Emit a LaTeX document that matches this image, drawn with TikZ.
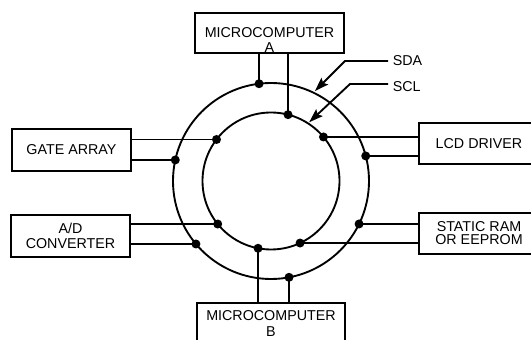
\documentclass[tikz,border=0pt]{standalone}
\usepackage{fontspec}
\setmainfont{Liberation Sans}
\usetikzlibrary{arrows.meta}

\begin{document}
\begin{tikzpicture}[x=0.03cm, y=0.03cm, line width=1.6pt, every node/.style={font=\fontsize{12.2}{13}\selectfont}, box/.style={draw,align=center,minimum height=1.23cm}, dot/.style={circle,fill,inner sep=0pt,minimum size=0.27cm}, >={Stealth[length=0.42cm,width=0.28cm,inset=0.07cm]}]
\useasboundingbox (-271,-159) rectangle (260,181);
\clip (-271,-159) rectangle (260,181);
\coordinate (c) at (0,0);
\draw (c) circle[radius=98];
\draw (c) circle[radius=68.5];
\node[box,minimum width=4.47cm,minimum height=1.2cm,label={[align=center,yshift=-0.2cm]center:MICROCOMPUTER\\A}] (mca) at (-1.5,148) {};
\node[box,minimum width=4.44cm] (mcb) at (0,-142.5) {MICROCOMPUTER\\B};
\node[box,minimum width=3.57cm,minimum height=1.26cm] (gate) at (-199.5,31) {GATE ARRAY};
\node[box,minimum width=3.57cm,minimum height=1.26cm] (adc) at (-200.5,-55) {A/D\\CONVERTER};
\node[box,minimum width=3.6cm] (lcd) at (208,37.5) {LCD DRIVER};
\node[box,minimum width=3.6cm] (sram) at (208,-52.5) {STATIC RAM\\[-2pt]OR EEPROM};
% taps on SDA (outer) and SCL (inner)
\node[dot] (mcaout) at (97:98) {};
\node[dot] (mcain) at (75.6:68.5) {};
\node[dot] (lcdin) at (40:68.5) {};
\node[dot] (lcdout) at (14.8:98) {};
\node[dot] (sramout) at (-26:98) {};
\node[dot] (sramin) at (-64.9:68.5) {};
\node[dot] (mcbout) at (-79.4:98) {};
\node[dot] (mcbin) at (-100.9:68.5) {};
\node[dot] (adcin) at (218.9:68.5) {};
\node[dot] (adcout) at (220:98) {};
\node[dot] (gatein) at (142.7:68.5) {};
\node[dot] (gateout) at (167.6:98) {};
\draw (mca.south -| mcaout) -- (mcaout.center);\draw (mca.south -| mcain) -- (mcain.center);
\draw (mcb.north -| mcbout) -- (mcbout.center);\draw (mcb.north -| mcbin) -- (mcbin.center);
\draw (gate.east |- gatein) -- (gatein.center);\draw (gate.east |- gateout) -- (gateout.center);
\draw (adc.east |- adcin) -- (adcin.center);\draw (adc.east |- adcout) -- (adcout.center);
\draw (lcd.west |- lcdin) -- (lcdin.center);\draw (lcd.west |- lcdout) -- (lcdout.center);
\draw (sram.west |- sramin) -- (sramin.center);\draw (sram.west |- sramout) -- (sramout.center);
% bus labels
\node[anchor=west] (sda) at (117,120) {SDA};
\node[anchor=west] (scl) at (117,94) {SCL};
\coordinate (sdabend) at (74,120);
\coordinate (sdatip) at (64:100);
\coordinate (sclbend) at (79,97);
\coordinate (scltip) at (57:70);
\draw[->] (sda.west) -- (sdabend) -- (sdatip);
\draw[->] (scl.west |- sclbend) -- (sclbend) -- (scltip);
\end{tikzpicture}
\end{document}
